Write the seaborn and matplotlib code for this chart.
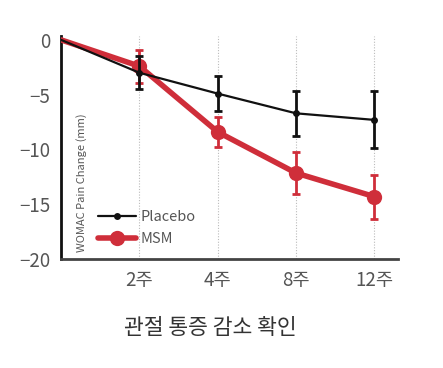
import numpy as np
import pandas as pd
import matplotlib
matplotlib.use("Agg")
import matplotlib.pyplot as plt
import seaborn as sns

# data
weeks = ["", "2주", "4주", "8주", "12주"]
placebo = [0, -3.0, -4.9, -6.7, -7.3]
placebo_err = [0, 1.5, 1.6, 2.05, 2.6]
msm = [0, -2.4, -8.4, -12.15, -14.3]
msm_err = [0, 1.5, 1.4, 1.9, 2.0]

sns.set_style("white")
plt.rcParams["font.family"] = ["Noto Sans CJK KR", "DejaVu Sans"]
plt.rcParams["font.weight"] = "light"
plt.rcParams["axes.unicode_minus"] = True

red = "#cf2e3a"
grey_txt = "#555555"

df = pd.DataFrame({
    "pos": list(range(len(weeks))) * 2,
    "val": placebo + msm,
    "err": placebo_err + msm_err,
    "group": ["Placebo"] * len(weeks) + ["MSM"] * len(weeks),
})

fig = plt.figure(figsize=(4.43, 3.68), dpi=100)
ax = fig.add_axes([0.138, 0.296, 0.76, 0.606])

# dotted vertical guides
for p in range(1, len(weeks)):
    ax.axvline(p, color="#bbbbbb", lw=0.8, ls=(0, (1, 1.5)), zorder=0)

styles = {"MSM": dict(color=red, lw=4, ms=11, z=3, elw=2),
          "Placebo": dict(color="#111111", lw=1.6, ms=5, z=4, elw=2)}
for g in ["MSM", "Placebo"]:
    sub = df[df["group"] == g]
    st = styles[g]
    sns.lineplot(data=sub, x="pos", y="val", ax=ax, color=st["color"],
                 lw=st["lw"], marker="o", markersize=st["ms"],
                 markeredgewidth=0, markevery=list(range(1, len(weeks))),
                 zorder=st["z"], label=g)
    s = sub.iloc[1:]
    ax.errorbar(s["pos"], s["val"], yerr=s["err"], fmt="none",
                ecolor=st["color"], elinewidth=st["elw"], capsize=3,
                capthick=2, zorder=st["z"])

ax.set_xlim(0, 4.3)
ax.set_ylim(-20, 0.35)
ax.set_xticks(range(1, len(weeks)))
ax.set_xticklabels(weeks[1:])
ax.set_yticks([0, -5, -10, -15, -20])
ax.set_yticklabels(["0", "\u22125", "\u221210", "\u221215", "\u221220"])
ax.tick_params(axis="both", length=0, labelsize=13.5, colors=grey_txt, pad=8)
ax.set_xlabel("")
ax.set_ylabel("")
ax.grid(False)

for s in ["top", "right"]:
    ax.spines[s].set_visible(False)
ax.spines["left"].set_color("#111111")
ax.spines["left"].set_linewidth(2)
ax.spines["bottom"].set_color("#444444")
ax.spines["bottom"].set_linewidth(2)

ax.text(0.045, 0.03, "WOMAC Pain Change (mm)", rotation=90, fontsize=8,
        color=grey_txt, transform=ax.transAxes, ha="left", va="bottom")

handles, labels = ax.get_legend_handles_labels()
order = [labels.index("Placebo"), labels.index("MSM")]
leg = ax.legend([handles[i] for i in order], [labels[i] for i in order],
                loc="lower left", bbox_to_anchor=(0.07, 0.0), frameon=False,
                fontsize=10.5, handlelength=2.6, handletextpad=0.3,
                labelspacing=0.55, labelcolor=grey_txt)

fig.text(0.475, 0.11, "관절 통증 감소 확인", ha="center", va="center",
         fontsize=15.5, color="#333333")

fig.savefig("out.png", dpi=100)
